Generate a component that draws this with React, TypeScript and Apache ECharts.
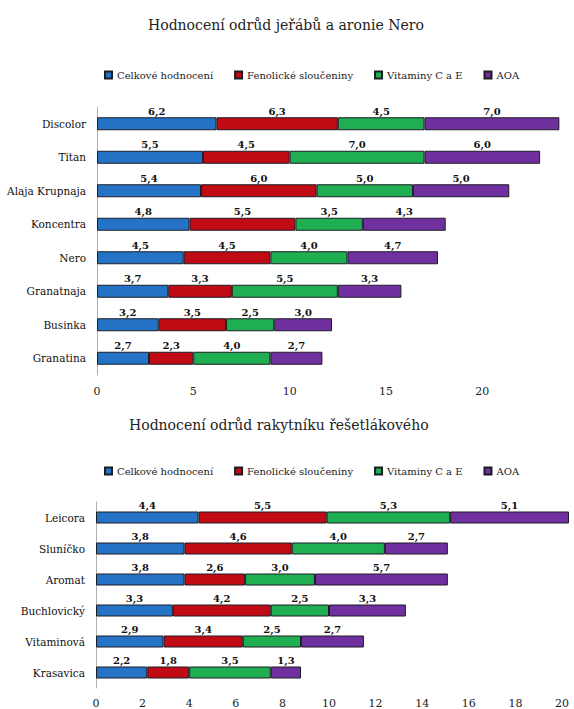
import React, { useEffect, useRef } from "react";
import * as echarts from "echarts";

const seriesNames = ["Celkové hodnocení", "Fenolické sloučeniny", "Vitaminy C a E", "AOA"];
const colors = ["#2473c6", "#c00a14", "#1fae52", "#7030a0"];

const title1 = "Hodnocení odrůd jeřábů a aronie Nero";
const categories1 = ["Discolor", "Titan", "Alaja Krupnaja", "Koncentra", "Nero", "Granatnaja", "Businka", "Granatina"];
const celkove1 = [6.2, 5.5, 5.4, 4.8, 4.5, 3.7, 3.2, 2.7];
const fenol1 = [6.3, 4.5, 6.0, 5.5, 4.5, 3.3, 3.5, 2.3];
const vitamin1 = [4.5, 7.0, 5.0, 3.5, 4.0, 5.5, 2.5, 4.0];
const aoa1 = [7.0, 6.0, 5.0, 4.3, 4.7, 3.3, 3.0, 2.7];

const title2 = "Hodnocení odrůd rakytníku řešetlákového";
const categories2 = ["Leicora", "Sluníčko", "Aromat", "Buchlovický", "Vitaminová", "Krasavica"];
const celkove2 = [4.4, 3.8, 3.8, 3.3, 2.9, 2.2];
const fenol2 = [5.5, 4.6, 2.6, 4.2, 3.4, 1.8];
const vitamin2 = [5.3, 4.0, 3.0, 2.5, 2.5, 3.5];
const aoa2 = [5.1, 2.7, 5.7, 3.3, 2.7, 1.3];

const FONT = "DejaVu Serif";

export default function App() {
  const ref = useRef<HTMLDivElement>(null);
  useEffect(() => {
    if (!ref.current) return;
    const chart = echarts.init(ref.current, null, { renderer: "svg" });
    const fmt = (p: any) => Number(p.value).toFixed(1).replace(".", ",");
    const mk = (name: string, data: number[], idx: number, color: string, bw: number) => ({
      name,
      type: "bar",
      stack: "s" + idx,
      xAxisIndex: idx,
      yAxisIndex: idx,
      data,
      barWidth: bw,
      clip: false,
      itemStyle: { color, borderColor: "#1c1c24", borderWidth: 1 },
      label: {
        show: true,
        position: "top",
        distance: 1,
        formatter: fmt,
        fontFamily: FONT,
        fontSize: 10,
        fontWeight: "bold",
        color: "#111",
      },
    });
    const group1 = [celkove1, fenol1, vitamin1, aoa1];
    const group2 = [celkove2, fenol2, vitamin2, aoa2];
    const legendBase = {
      data: seriesNames,
      left: 99,
      itemWidth: 7,
      itemHeight: 7,
      itemGap: 21,
      icon: "rect",
      textStyle: { fontFamily: FONT, fontSize: 10, color: "#222" },
      selectedMode: false,
    };
    const catAxis = (cats: string[], idx: number) => ({
      type: "category",
      gridIndex: idx,
      data: cats,
      inverse: true,
      axisLine: { show: true, lineStyle: { color: "#b0b0b0", width: 1 } },
      axisTick: { show: false },
      axisLabel: { fontFamily: FONT, fontSize: 10.5, color: "#111", margin: 11 },
    });
    chart.setOption({
      animation: false,
      backgroundColor: "#fff",
      textStyle: { fontFamily: FONT },
      title: [
        {
          text: title1,
          left: 143,
          top: 13,
          textStyle: { fontFamily: FONT, fontSize: 14, fontWeight: "normal", color: "#222" },
        },
        {
          text: title2,
          left: 124,
          top: 413,
          textStyle: { fontFamily: FONT, fontSize: 14, fontWeight: "normal", color: "#222" },
        },
      ],
      legend: [
        { ...legendBase, top: 65 },
        { ...legendBase, top: 461 },
      ],
      grid: [
        { left: 97, right: 5, top: 107, height: 268 },
        { left: 96, right: 12, top: 502, height: 186 },
      ],
      xAxis: [
        {
          type: "value",
          gridIndex: 0,
          min: 0,
          max: 24.5,
          interval: 5,
          axisLine: { show: false },
          axisTick: { show: false },
          splitLine: { show: false },
          axisLabel: { fontFamily: FONT, fontSize: 11, color: "#222", margin: 11, showMaxLabel: false },
        },
        {
          type: "value",
          gridIndex: 1,
          min: 0,
          max: 20,
          interval: 2,
          axisLine: { show: false },
          axisTick: { show: false },
          splitLine: { show: false },
          axisLabel: { fontFamily: FONT, fontSize: 11, color: "#222", margin: 10 },
        },
      ],
      yAxis: [catAxis(categories1, 0), catAxis(categories2, 1)],
      series: [
        ...group1.map((d, i) => mk(seriesNames[i], d, 0, colors[i], 13)),
        ...group2.map((d, i) => mk(seriesNames[i], d, 1, colors[i], 12)),
      ],
    });
    return () => chart.dispose();
  }, []);
  return (
    <div
      ref={ref}
      style={{ position: "absolute", left: 0, top: 0, width: 574, height: 709 }}
    />
  );
}
